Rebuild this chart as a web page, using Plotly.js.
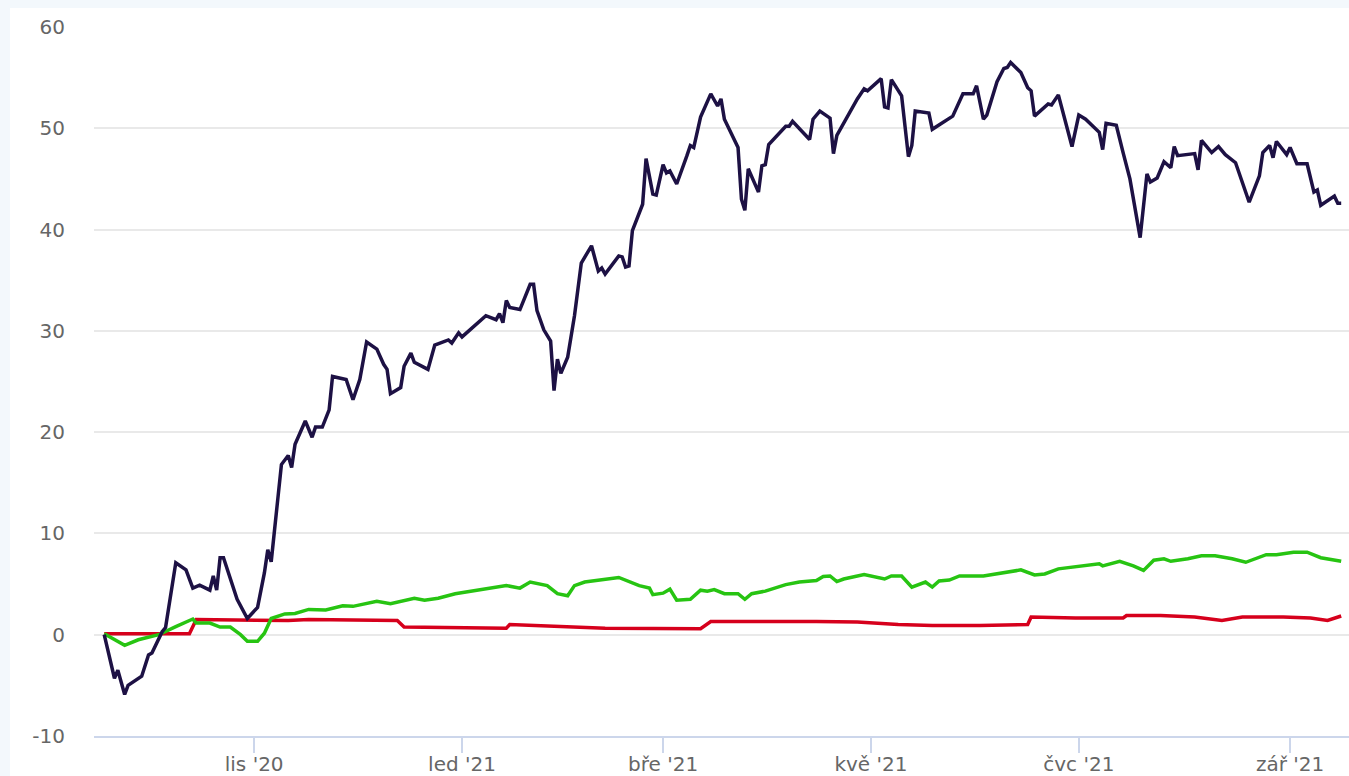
<!DOCTYPE html>
<html>
<head>
<meta charset="utf-8">
<script src="https://cdn.plot.ly/plotly-3.0.1.min.js"></script>
<style>
  html, body { margin: 0; padding: 0; background: #f3f8fc; width: 1349px; height: 776px; overflow: hidden; }
  #chart { position: absolute; left: 10px; top: 8px; width: 1339px; height: 768px; background: #ffffff; }
</style>
</head>
<body>
<div id="chart"></div>
<script>
const darkDates = ["2020-09-18","2020-09-21","2020-09-22","2020-09-24","2020-09-25","2020-09-29","2020-10-01","2020-10-02","2020-10-05","2020-10-06","2020-10-09","2020-10-12","2020-10-14","2020-10-16","2020-10-19","2020-10-20","2020-10-21","2020-10-22","2020-10-23","2020-10-27","2020-10-30","2020-11-02","2020-11-04","2020-11-05","2020-11-06","2020-11-09","2020-11-11","2020-11-12","2020-11-13","2020-11-16","2020-11-18","2020-11-19","2020-11-21","2020-11-23","2020-11-24","2020-11-28","2020-11-30","2020-12-01","2020-12-02","2020-12-04","2020-12-07","2020-12-09","2020-12-10","2020-12-11","2020-12-14","2020-12-15","2020-12-17","2020-12-18","2020-12-22","2020-12-24","2020-12-28","2020-12-29","2020-12-31","2021-01-01","2021-01-08","2021-01-11","2021-01-12","2021-01-13","2021-01-14","2021-01-15","2021-01-18","2021-01-21","2021-01-22","2021-01-23","2021-01-25","2021-01-27","2021-01-28","2021-01-29","2021-01-30","2021-02-01","2021-02-02","2021-02-03","2021-02-05","2021-02-08","2021-02-10","2021-02-11","2021-02-12","2021-02-16","2021-02-17","2021-02-18","2021-02-19","2021-02-20","2021-02-23","2021-02-24","2021-02-26","2021-02-27","2021-03-01","2021-03-02","2021-03-03","2021-03-05","2021-03-08","2021-03-09","2021-03-10","2021-03-12","2021-03-15","2021-03-17","2021-03-18","2021-03-19","2021-03-23","2021-03-24","2021-03-25","2021-03-26","2021-03-29","2021-03-30","2021-03-31","2021-04-01","2021-04-06","2021-04-07","2021-04-08","2021-04-13","2021-04-14","2021-04-16","2021-04-19","2021-04-20","2021-04-21","2021-04-24","2021-04-27","2021-04-29","2021-04-30","2021-05-04","2021-05-05","2021-05-06","2021-05-07","2021-05-10","2021-05-12","2021-05-13","2021-05-14","2021-05-18","2021-05-19","2021-05-25","2021-05-28","2021-05-31","2021-06-01","2021-06-03","2021-06-04","2021-06-07","2021-06-09","2021-06-10","2021-06-11","2021-06-14","2021-06-16","2021-06-17","2021-06-18","2021-06-22","2021-06-23","2021-06-25","2021-06-29","2021-07-01","2021-07-03","2021-07-07","2021-07-08","2021-07-09","2021-07-12","2021-07-14","2021-07-16","2021-07-19","2021-07-21","2021-07-22","2021-07-24","2021-07-26","2021-07-28","2021-07-29","2021-07-30","2021-08-04","2021-08-05","2021-08-06","2021-08-09","2021-08-11","2021-08-13","2021-08-16","2021-08-20","2021-08-23","2021-08-24","2021-08-26","2021-08-27","2021-08-28","2021-08-31","2021-09-01","2021-09-03","2021-09-06","2021-09-08","2021-09-09","2021-09-10","2021-09-14","2021-09-15","2021-09-16"];
const darkValues = [0.0,-4.3,-3.5,-5.9,-5.0,-4.1,-2.0,-1.8,0.3,0.7,7.1,6.4,4.6,4.9,4.4,5.8,4.4,7.6,7.6,3.5,1.6,2.7,6.1,8.4,7.2,16.8,17.7,16.5,18.8,21.1,19.5,20.5,20.5,22.2,25.5,25.2,23.2,24.2,25.2,28.9,28.2,26.7,26.2,23.8,24.4,26.5,27.8,26.9,26.2,28.6,29.1,28.8,29.8,29.4,31.5,31.1,31.7,30.8,33.0,32.3,32.1,34.6,34.6,32.0,30.1,29.0,24.1,27.2,25.8,27.4,29.5,31.5,36.7,38.4,35.9,36.2,35.6,37.4,37.3,36.3,36.4,39.9,42.5,47.0,43.5,43.4,46.4,45.6,45.8,44.5,47.3,48.3,48.1,51.1,53.4,52.2,52.9,50.9,48.1,43.0,41.9,46.0,43.7,46.3,46.4,48.4,50.2,50.2,50.7,48.9,50.9,51.7,51.0,47.5,49.3,51.1,52.9,53.9,53.7,54.9,52.1,52.0,54.8,53.2,47.2,48.3,51.7,51.5,49.9,51.2,53.4,53.4,54.2,50.9,51.3,54.6,55.9,56.0,56.5,55.5,54.0,53.7,51.2,52.4,52.3,53.3,48.2,51.3,50.9,49.6,47.9,50.5,50.3,47.6,45.0,39.2,45.5,44.7,45.1,46.7,46.1,48.2,47.3,47.5,45.9,48.8,47.6,48.2,47.4,46.6,42.7,45.3,47.6,48.3,47.1,48.7,47.4,48.1,46.5,46.5,43.7,43.9,42.4,43.3,42.6,42.6];

const greenDates = ["2020-09-18","2020-09-21","2020-09-24","2020-09-28","2020-10-04","2020-10-09","2020-10-14","2020-10-15","2020-10-19","2020-10-22","2020-10-25","2020-10-28","2020-10-30","2020-11-02","2020-11-04","2020-11-06","2020-11-10","2020-11-13","2020-11-17","2020-11-22","2020-11-27","2020-11-30","2020-12-07","2020-12-11","2020-12-18","2020-12-21","2020-12-25","2020-12-30","2021-01-09","2021-01-14","2021-01-18","2021-01-21","2021-01-26","2021-01-29","2021-02-01","2021-02-03","2021-02-06","2021-02-16","2021-02-22","2021-02-25","2021-02-26","2021-03-01","2021-03-03","2021-03-05","2021-03-09","2021-03-12","2021-03-14","2021-03-16","2021-03-19","2021-03-23","2021-03-25","2021-03-27","2021-03-31","2021-04-06","2021-04-10","2021-04-15","2021-04-17","2021-04-19","2021-04-21","2021-04-23","2021-04-29","2021-05-05","2021-05-07","2021-05-10","2021-05-13","2021-05-17","2021-05-19","2021-05-21","2021-05-24","2021-05-27","2021-06-03","2021-06-10","2021-06-14","2021-06-18","2021-06-21","2021-06-25","2021-06-30","2021-07-07","2021-07-08","2021-07-13","2021-07-17","2021-07-20","2021-07-23","2021-07-26","2021-07-28","2021-08-02","2021-08-06","2021-08-10","2021-08-15","2021-08-19","2021-08-25","2021-08-28","2021-09-02","2021-09-06","2021-09-10","2021-09-16"];
const greenValues = [0.1,-0.5,-1.05,-0.5,0.0,0.8,1.55,1.15,1.15,0.75,0.75,0.0,-0.65,-0.65,0.15,1.6,2.05,2.1,2.5,2.45,2.85,2.8,3.3,3.05,3.6,3.4,3.6,4.05,4.6,4.85,4.6,5.2,4.85,4.05,3.85,4.85,5.2,5.65,4.85,4.6,3.95,4.1,4.5,3.4,3.5,4.4,4.3,4.45,4.05,4.05,3.5,4.05,4.3,4.95,5.2,5.35,5.75,5.8,5.25,5.5,5.95,5.5,5.8,5.8,4.7,5.2,4.7,5.3,5.4,5.8,5.8,6.15,6.4,5.9,6.0,6.5,6.7,7.0,6.8,7.25,6.8,6.35,7.35,7.5,7.25,7.5,7.8,7.8,7.5,7.15,7.9,7.9,8.15,8.15,7.6,7.25];

const redDates = ["2020-09-18","2020-10-13","2020-10-15","2020-11-11","2020-11-17","2020-12-13","2020-12-15","2021-01-14","2021-01-15","2021-02-02","2021-02-12","2021-03-12","2021-03-15","2021-04-15","2021-04-27","2021-05-09","2021-05-19","2021-06-02","2021-06-16","2021-06-17","2021-06-30","2021-07-14","2021-07-15","2021-07-25","2021-08-04","2021-08-12","2021-08-18","2021-08-30","2021-09-07","2021-09-12","2021-09-16"];
const redValues = [0.1,0.1,1.5,1.4,1.5,1.4,0.75,0.65,1.0,0.8,0.65,0.6,1.3,1.3,1.25,1.0,0.9,0.9,1.0,1.75,1.65,1.65,1.9,1.9,1.75,1.4,1.75,1.75,1.65,1.4,1.85];

const tickDates = ["2020-11-01","2021-01-01","2021-03-01","2021-05-01","2021-07-01","2021-09-01"];
const tickLabels = ["lis '20","led '21","bře '21","kvě '21","čvc '21","zář '21"];
const yTicks = [-10, 0, 10, 20, 30, 40, 50, 60];

const traces = [
  { x: redDates, y: redValues, type: 'scatter', mode: 'lines', line: { color: '#d6001c', width: 3.5 }, hoverinfo: 'skip' },
  { x: greenDates, y: greenValues, type: 'scatter', mode: 'lines', line: { color: '#27c412', width: 3.5 }, hoverinfo: 'skip' },
  { x: darkDates, y: darkValues, type: 'scatter', mode: 'lines', line: { color: '#1d1144', width: 3.5 }, hoverinfo: 'skip' }
];

const layout = {
  width: 1339, height: 768,
  margin: { l: 84, r: 0, t: 19, b: 40, pad: 0 },
  paper_bgcolor: '#ffffff', plot_bgcolor: '#ffffff',
  showlegend: false,
  font: { family: 'DejaVu Sans, sans-serif', size: 20, color: '#666666' },
  xaxis: {
    type: 'date',
    range: ['2020-09-15', '2021-09-18 07:00'],
    tickvals: tickDates, ticktext: tickLabels,
    showgrid: false, zeroline: false,
    showline: true, linecolor: '#ccd6eb', linewidth: 2,
    ticks: 'outside', ticklen: 15, tickwidth: 2, tickcolor: '#ccd6eb',
    ticklabelstandoff: -6,
    tickfont: { size: 20, color: '#666666' }
  },
  yaxis: {
    range: [-10, 60],
    tickvals: yTicks, ticktext: yTicks.map(String),
    showgrid: true, gridcolor: '#e9e9e9', gridwidth: 2,
    zeroline: false, showline: false, ticks: '',
    ticklabelstandoff: 28,
    tickfont: { size: 20, color: '#666666' }
  }
};

Plotly.newPlot('chart', traces, layout, { displayModeBar: false, staticPlot: true });
</script>
</body>
</html>
